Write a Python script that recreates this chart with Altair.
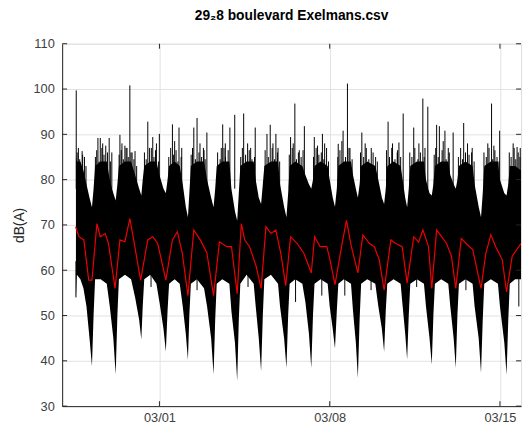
import altair as alt
import pandas as pd

# ---- data (hours since 2017-02-25 00:00) ----
red_hours = [13.3, 16.5, 21.4, 26.2, 29.4, 34.3, 37.6, 42.5, 45.7, 52.2, 57.0, 61.9, 66.8, 70.0,
             77.4, 84.5, 89.4, 94.3, 102.3, 108.8, 113.7, 118.5, 124.1, 129.9, 136.3, 142.8,
             149.4, 155.2, 162.3, 167.1, 172.7, 176.8, 180.1, 184.9, 191.4, 196.3, 201.1, 206.0,
             210.8, 215.7, 220.6, 225.4, 231.9, 238.4, 245.8, 249.1, 254.6, 261.1, 264.3, 269.2,
             275.7, 280.5, 285.4, 291.8, 296.7, 303.2, 308.0, 312.9, 317.7, 324.3, 329.1, 335.5,
             340.4, 346.9, 351.8, 355.9, 361.5, 364.7, 369.5, 374.4, 379.3, 384.1, 388.4, 393.8,
             398.7, 405.2, 413.3, 418.1, 423.0, 427.8, 434.3, 438.5, 444.1, 450.6, 452.8]
red_db = [69.6, 67.4, 66.7, 57.8, 57.8, 70.3, 67.4, 68.1, 65.9, 56.0, 66.7, 66.3, 71.4, 67.4,
          57.8, 66.7, 67.4, 65.9, 57.8, 66.7, 68.5, 63.8, 54.4, 68.9, 66.7, 63.8,
          54.4, 66.3, 65.2, 65.2, 54.8, 70.3, 66.7, 65.2, 60.9, 56.0, 69.6, 68.1,
          68.9, 63.8, 56.6, 67.4, 65.9, 63.8, 59.4, 67.4, 65.2, 65.2, 62.3, 56.8,
          65.2, 71.0, 65.2, 59.4, 67.8, 65.9, 65.2, 62.3, 55.6, 66.7, 65.9, 65.2,
          57.2, 67.4, 66.2, 68.9, 65.2, 56.0, 68.9, 67.4, 65.9, 63.1, 56.0, 67.0,
          65.9, 64.5, 56.0, 63.8, 67.8, 65.2, 62.3, 55.2, 63.1, 65.2, 65.9]

env_hours = [13.6, 14.5, 18, 21,
             24, 27, 29.4, 31, 32.5, 38, 44,
             47, 50.5, 52.8, 54.5, 56, 62, 68,
             72, 76, 78.1, 79.5, 81, 87, 93,
             96, 100, 102.3, 104, 105.5, 111, 116,
             119, 122, 124.1, 125.5, 127, 133, 140,
             143, 147, 149.4, 151, 152.5, 158, 165,
             167, 170.5, 172.7, 174.3, 175.8, 182, 189,
             191, 194, 196.3, 198, 199.5, 206, 213,
             215, 219, 221.3, 223, 224.5, 230, 237,
             240, 243.5, 245.8, 247.5, 249, 255, 262,
             264, 267, 269.2, 271, 272.5, 278, 285,
             287, 289.8, 291.8, 293.5, 295, 301, 309,
             312, 315.5, 317.7, 319.3, 320.8, 327, 334,
             336, 338.5, 340.4, 342, 343.5, 350, 357,
             359, 362.5, 364.7, 366.3, 367.8, 374, 381,
             383, 386.3, 388.4, 390, 391.5, 398, 405,
             407, 411, 413.3, 415, 416.5, 423, 430,
             432, 436.3, 438.5, 440.2, 441.7, 447, 452.8]
env_lower = [54, 59, 58, 56,
             52, 45, 38.8, 50, 58, 58, 57,
             52, 45, 36.9, 50, 58, 59, 58,
             54, 49, 44.7, 52, 58, 59, 57,
             53, 47, 42.0, 51, 57, 58, 57,
             52, 46, 40.2, 50, 57, 58, 56,
             52, 45, 37.0, 49, 57, 58, 57,
             51, 44, 35.6, 49, 57, 59, 57,
             52, 45, 37.7, 50, 58, 59, 57,
             52, 45, 38.4, 50, 57, 58, 57,
             53, 46, 38.4, 50, 57, 58, 57,
             52, 47, 42.7, 51, 57, 58, 57,
             51, 44, 36.2, 49, 57, 58, 57,
             52, 47, 42.0, 51, 57, 58, 57,
             52, 46, 40.3, 50, 57, 58, 57,
             52, 45, 39.2, 50, 57, 58, 57,
             52, 45, 38.4, 50, 57, 58, 57,
             52, 45, 37.3, 49, 57, 58, 57,
             52, 44, 36.9, 49, 57, 58, 58]
env_upper = [85, 84, 84, 82,
             79, 76, 73.9, 78, 83, 84, 84,
             80, 77, 75.4, 79, 83, 84, 84,
             81, 78, 76.5, 80, 83, 84, 84,
             81, 78, 77.0, 80, 83, 84, 83,
             79, 74, 71.7, 77, 83, 84, 84,
             80, 76, 73.9, 78, 83, 84, 84,
             78, 73, 70.9, 77, 83, 84, 84,
             80, 76, 74.6, 79, 83, 84, 84,
             79, 74, 71.7, 77, 83, 84, 83,
             81, 79, 78.0, 80, 83, 84, 83,
             80, 76, 74.0, 78, 83, 84, 84,
             81, 78, 76.0, 79, 83, 84, 83,
             80, 76, 74.6, 78, 83, 84, 83,
             80, 76, 73.9, 78, 83, 84, 84,
             80, 77, 76.5, 79, 83, 84, 84,
             81, 79, 78.0, 80, 83, 84, 83,
             79, 74, 71.7, 77, 83, 84, 84,
             80, 77, 76.5, 79, 83, 83, 82]

spike_hours = [13.9, 19.7, 35.3, 37.6, 46.4, 57.0, 61.9, 66.8, 71.9, 84.5, 89.4, 95.9, 108.8,
               115.3, 129.9, 133.1, 142.8, 158.4, 165.5, 170.3, 179.1, 190.5, 202.1, 205.3,
               210.9, 225.4, 229.6, 239.0, 248.8, 256.8, 272.4, 277.2, 281.5, 295.7, 321.6,
               332.3, 336.5, 346.9, 355.9, 360.8, 369.5, 372.2, 377.7, 385.8, 396.2, 423.7,
               431.7, 448.9,
               16, 22, 40, 43, 49, 59, 64, 69, 88, 93, 111, 118, 136, 140, 157, 161, 183, 186,
               208, 213, 228, 234, 252, 259, 276, 284, 299, 305, 326, 331, 352, 358, 376, 381,
               400, 404, 420, 426, 445, 452]
spike_top = [99.7, 86.3, 89.2, 89.2, 89.2, 89.9, 87.5, 100.8, 86.3, 92.8, 89.4, 90.1, 92.2,
             91.5, 91.5, 93.6, 90.4, 92.2, 91.5, 94.3, 94.6, 91.5, 90.1, 92.1,
             90.1, 89.4, 96.8, 91.8, 89.4, 90.1, 87.9, 90.8, 101.2, 90.4, 92.8,
             88.2, 94.6, 91.5, 97.9, 96.1, 92.1, 91.8, 90.8, 90.4, 92.5, 96.8,
             90.8, 87.2,
             87, 85, 88, 87.5, 86, 88, 87, 86, 87, 88, 88.5, 87, 88, 86.5, 87, 88, 88, 87,
             88, 87, 88, 86.5, 87.5, 88, 88.5, 87, 88, 87, 88, 86.5, 88, 87, 88.5, 87,
             88, 86, 88, 87.5, 88, 87]

# moderate peaks that make up the ragged top of the dense band
peak_hours = [14.8, 17.3, 20.2, 23.5, 32.8, 34.1, 36.4, 39.2, 41.3, 44.7, 47.6,
              56.2, 58.3, 60.4, 63.1, 65.2, 67.9, 70.8, 73.5, 81.2, 82.9, 86.1, 90.6, 92.1, 95.0,
              105.2, 107.1, 110.0, 112.4, 114.2, 117.4, 127.3, 128.6, 131.5, 135.0, 137.6, 139.4,
              141.1, 153.4, 155.9, 159.7, 161.2, 163.8, 176.2, 177.8, 181.0, 184.6, 187.3, 189.8,
              200.3, 203.4, 207.2, 209.6, 212.4, 214.6, 224.1, 227.0, 231.2, 233.1, 235.8, 237.7,
              248.0, 250.6, 253.3, 255.7, 258.2, 260.9, 262.8, 272.0, 274.1, 279.6, 283.0, 286.1,
              294.4, 297.5, 300.1, 302.6, 306.8, 309.3, 311.0, 320.1, 323.0, 325.2, 328.4, 330.6,
              334.0, 343.0, 345.1, 348.0, 351.0, 353.5, 357.2, 367.1, 368.6, 371.1, 374.9, 378.9,
              382.0, 391.0, 393.2, 395.0, 398.0, 401.5, 404.6, 406.5, 416.2, 418.5, 421.2, 424.8,
              427.0, 429.1, 431.0, 441.2, 443.0, 446.0, 447.6, 450.0, 451.7]
peak_top = [86, 84.5, 85.5, 83, 85, 86.5, 84, 87, 85.5, 86, 84,
            85.5, 86.5, 84.5, 87, 85, 86, 84.5, 83, 86, 84.5, 87, 85, 86.5, 84,
            85, 87, 85.5, 86.5, 84, 85, 85.5, 87, 84.5, 86, 85, 87,
            84.5, 86, 84.5, 87, 85, 86.5, 85, 87, 85.5, 86.5, 84.5, 85,
            86.5, 85, 87, 84.5, 86, 84, 85.5, 87, 84.5, 86, 85, 86.5,
            85, 87, 85.5, 86, 84.5, 87, 84, 85, 86.5, 85, 87, 84.5,
            86, 85, 87, 84.5, 86, 85, 84, 86.5, 85, 87, 84.5, 86,
            85, 86, 85, 87, 84.5, 86, 85, 85.5, 87, 85, 86.5, 84.5,
            86, 85, 87, 84.5, 86, 85.5, 87, 84, 86, 85, 87, 84.5,
            86.5, 85, 84, 86, 85, 87, 84.5, 86, 85]

dip_hours = [13.6, 87.7, 133.1, 183.4, 230.3, 256.2, 278.9, 304.8, 349.8, 398.4, 450.6]
dip_bottom = [54.0, 56.3, 55.6, 56.3, 53.0, 54.4, 54.4, 55.6, 56.3, 55.6, 52.0]

y_ticks = [30, 40, 50, 60, 70, 80, 90, 100, 110]
x_tick_dates = ["2017-03-01T00:00:00", "2017-03-08T00:00:00", "2017-03-15T00:00:00"]

base = pd.Timestamp("2017-02-25 00:00:00")


def to_time(hours):
    return [(base + pd.to_timedelta(h, unit="h")).strftime("%Y-%m-%dT%H:%M:%S") for h in hours]


red_df = pd.DataFrame({"t": to_time(red_hours), "db": red_db})
env_df = pd.DataFrame({"t": to_time(env_hours), "lo": env_lower, "hi": env_upper})
spike_df = pd.DataFrame({"t": to_time(spike_hours + peak_hours), "top": spike_top + peak_top})
dip_df = pd.DataFrame({"t": to_time(dip_hours), "bottom": dip_bottom})
ytick_df = pd.DataFrame({"v": y_ticks})
xtick_df = pd.DataFrame({"t": x_tick_dates})

FONT = "Liberation Sans"
W, H = 466, 368
AX = "#262626"

x_scale = alt.Scale(domain=[alt.DateTime(year=2017, month=2, date=25),
                            alt.DateTime(year=2017, month=3, date=15, hours=20, minutes=48)])
y_scale = alt.Scale(domain=[30, 110], nice=False, zero=False)

x_axis = alt.Axis(
    values=[alt.DateTime(year=2017, month=3, date=1),
            alt.DateTime(year=2017, month=3, date=8),
            alt.DateTime(year=2017, month=3, date=15)],
    format="%m/%d", title=None, labelFont=FONT, labelFontSize=13, labelColor="#404040",
    labelPadding=6, tickSize=0, domainColor=AX, gridColor="#e2e2e2", grid=True,
)
y_axis = alt.Axis(
    values=y_ticks, title="dB(A)", titleFont=FONT, titleFontSize=14, titleFontWeight="normal",
    titleColor=AX, titlePadding=7, labelFont=FONT, labelFontSize=13, labelColor="#404040",
    labelPadding=8, tickSize=0, domainColor=AX, gridColor="#e2e2e2", grid=True,
)

xenc = alt.X("t:T", scale=x_scale, axis=x_axis)

band = alt.Chart(env_df).mark_area(color="black", clip=True).encode(
    x=xenc,
    y=alt.Y("lo:Q", scale=y_scale, axis=y_axis),
    y2="hi:Q",
)
spikes = alt.Chart(spike_df).mark_rule(color="black", strokeWidth=1, clip=True).encode(
    x=alt.X("t:T", scale=x_scale),
    y=alt.Y("top:Q", scale=y_scale),
    y2=alt.datum(78),
)
dips = alt.Chart(dip_df).mark_rule(color="black", strokeWidth=1, clip=True).encode(
    x=alt.X("t:T", scale=x_scale),
    y=alt.Y("bottom:Q", scale=y_scale),
    y2=alt.datum(62),
)
red = alt.Chart(red_df).mark_line(color="#f00000", strokeWidth=1.2, clip=True).encode(
    x=alt.X("t:T", scale=x_scale),
    y=alt.Y("db:Q", scale=y_scale),
)

# inward tick marks on all four sides (MATLAB box style)
ytick_left = alt.Chart(ytick_df).mark_rule(color=AX, strokeWidth=1).encode(
    y=alt.Y("v:Q", scale=y_scale), x=alt.value(0), x2=alt.value(5))
ytick_right = alt.Chart(ytick_df).mark_rule(color=AX, strokeWidth=1).encode(
    y=alt.Y("v:Q", scale=y_scale), x=alt.value(W - 5), x2=alt.value(W))
xtick_bottom = alt.Chart(xtick_df).mark_rule(color=AX, strokeWidth=1).encode(
    x=alt.X("t:T", scale=x_scale), y=alt.value(H - 5), y2=alt.value(H))
xtick_top = alt.Chart(xtick_df).mark_rule(color=AX, strokeWidth=1).encode(
    x=alt.X("t:T", scale=x_scale), y=alt.value(0), y2=alt.value(5))

chart = alt.layer(band, spikes, dips, red, ytick_left, ytick_right, xtick_bottom, xtick_top).properties(
    width=W,
    height=H,
    autosize="none",
    padding={"left": 55, "top": 33, "right": 3, "bottom": 24},
    title=alt.TitleParams(
        text="29₂8 boulevard Exelmans.csv", font=FONT, fontSize=14, fontWeight="bold",
        color="#000000", anchor="middle", offset=15,
    ),
).configure_view(stroke=AX, strokeWidth=1).configure(background="white")

chart.save("out.html", embed_options={"renderer": "svg", "actions": False})
